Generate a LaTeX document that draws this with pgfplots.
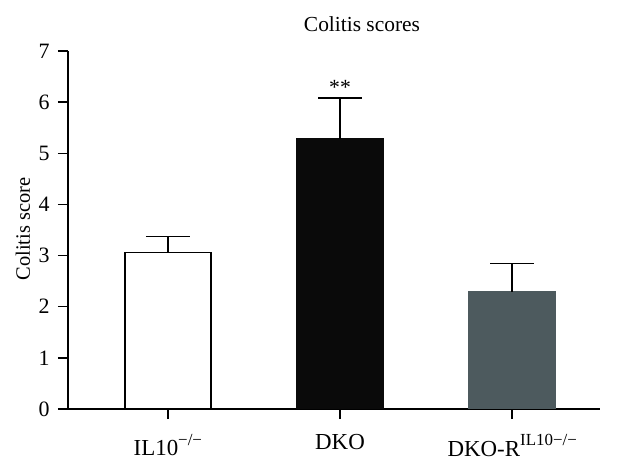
\documentclass[border=0pt]{standalone}
\usepackage{fontspec}
\setmainfont{Liberation Serif}
\usepackage{pgfplots}
\pgfplotsset{compat=1.18}
\definecolor{barthree}{RGB}{77,90,94}
\definecolor{bartwo}{RGB}{10,10,10}
\newcommand\sups[1]{\raisebox{0.45em}{\fontsize{17}{17}\selectfont #1}}
\begin{document}
\begin{tikzpicture}
\useasboundingbox (-68bp,-54bp) rectangle (568bp,409bp);
\begin{axis}[
  scale only axis, width=532bp, height=358bp,
  xmin=-0.58, xmax=2.51, ymin=0, ymax=7,
  axis x line*=bottom, axis y line*=left,
  xtick={0,1,2},
  xticklabels={{IL10\sups{−/−}},{DKO},{DKO-R\sups{IL10−/−}}},
  ytick={0,1,2,3,4,5,6,7},
  tick align=outside, major tick length=10bp,
  every tick/.style={black, line width=1.4bp},
  axis line style={line width=1.4bp, black},
  ybar, bar width=0.5,
  /pgf/number format/assume math mode=true,
  ticklabel style={font=\fontsize{22}{24}\selectfont},
  xticklabel style={yshift=-12bp, font=\fontsize{23}{24}\selectfont},
  yticklabel style={xshift=-5bp},
  error bars/error bar style={line width=1.4bp, black},
  error bars/error mark options={rotate=90, mark size=22bp, line width=1.4bp, black},
]
\addplot[bar shift=0pt, fill=white, draw=black, line width=1.4bp,
  error bars/.cd, y dir=plus, y explicit] coordinates {(0,3.06) +- (0,0.31)};
\addplot[bar shift=0pt, fill=bartwo, draw=bartwo, line width=1.4bp,
  error bars/.cd, y dir=plus, y explicit] coordinates {(1,5.28) +- (0,0.80)};
\addplot[bar shift=0pt, fill=barthree, draw=barthree, line width=1.4bp,
  error bars/.cd, y dir=plus, y explicit] coordinates {(2,2.29) +- (0,0.56)};
\node[anchor=base, font=\fontsize{21.7}{24}\selectfont] at (axis cs:1,6.15) {**};
\end{axis}
\node[anchor=base, font=\fontsize{21.5}{24}\selectfont] at (294bp,377bp) {Colitis scores};
\node[rotate=90, font=\fontsize{20.5}{24}\selectfont] at (-45bp,180bp) {Colitis score};
\end{tikzpicture}
\end{document}
